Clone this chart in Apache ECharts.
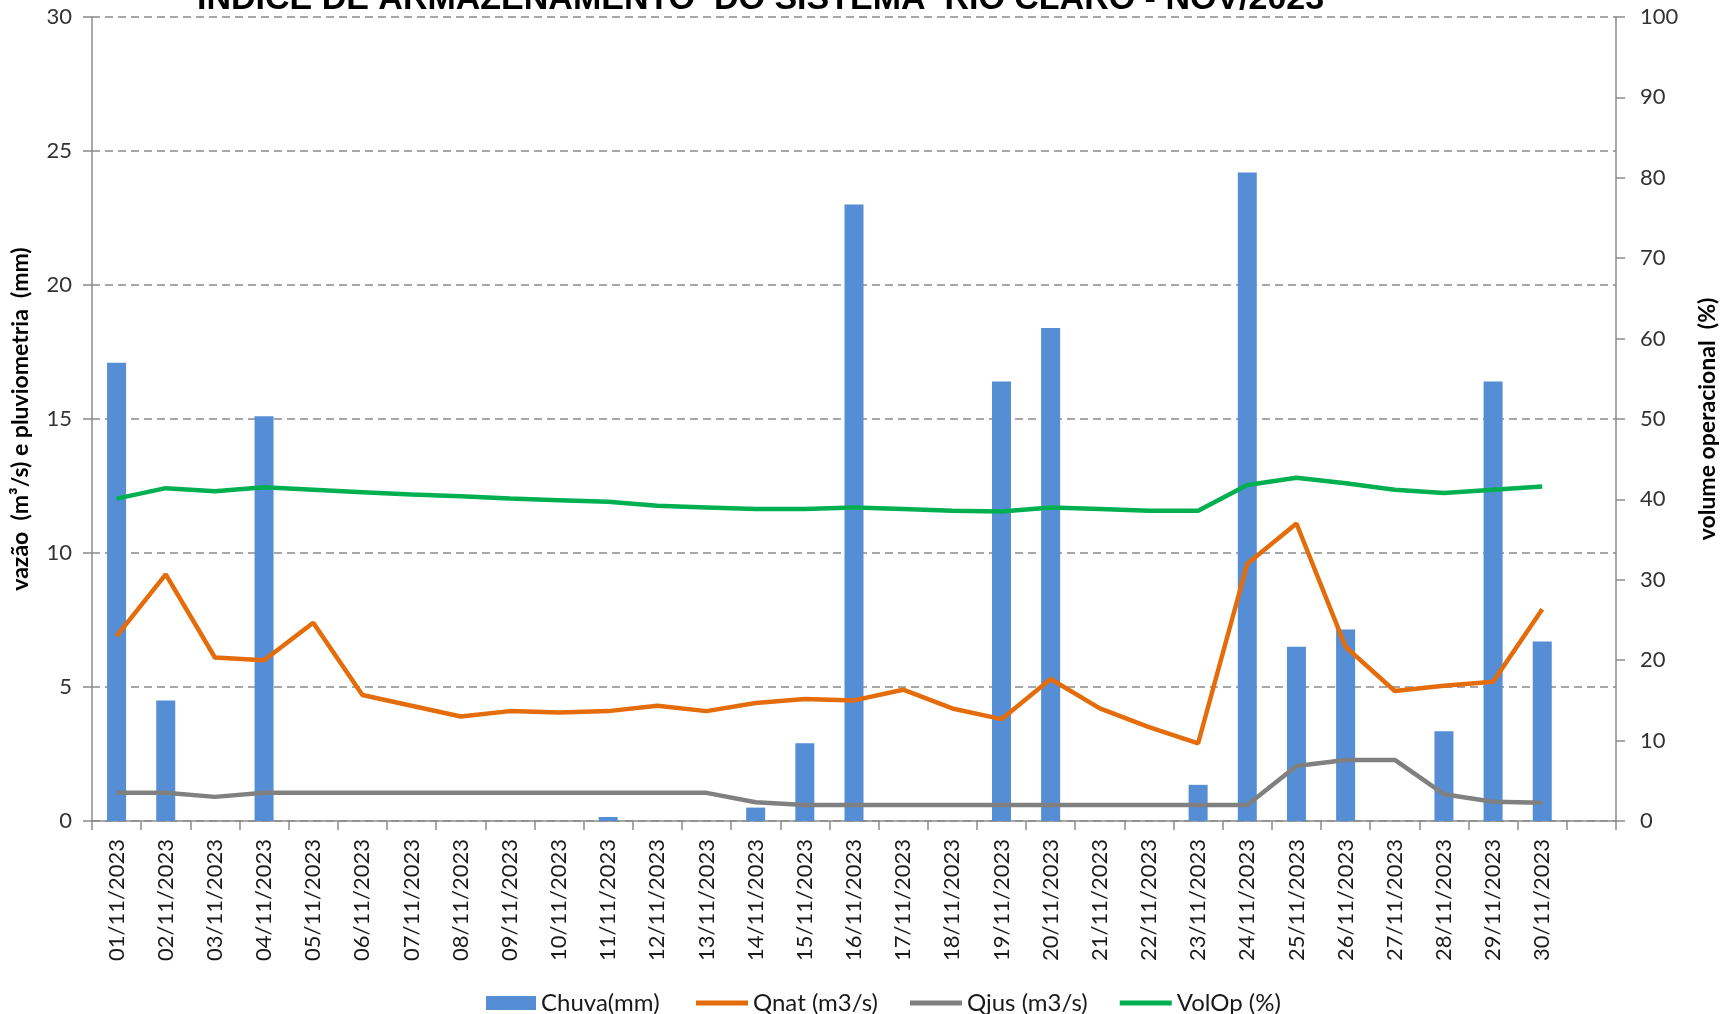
<!DOCTYPE html>
<html>
<head>
<meta charset="utf-8">
<script src="https://cdn.jsdelivr.net/npm/echarts@6/dist/echarts.min.js"></script>
<style>
html,body{margin:0;padding:0;background:#fff;}
#chart{width:1727px;height:1014px;}
</style>
</head>
<body>
<div id="chart"></div>
<script>
// datas (a ultima categoria vazia reproduz o espaco livre a direita)
var dias = ['01/11/2023','02/11/2023','03/11/2023','04/11/2023','05/11/2023','06/11/2023','07/11/2023','08/11/2023','09/11/2023','10/11/2023',
	'11/11/2023','12/11/2023','13/11/2023','14/11/2023','15/11/2023','16/11/2023','17/11/2023','18/11/2023','19/11/2023','20/11/2023',
	'21/11/2023','22/11/2023','23/11/2023','24/11/2023','25/11/2023','26/11/2023','27/11/2023','28/11/2023','29/11/2023','30/11/2023',''];
var chuva = [17.1,4.5,0,15.1,0,0,0,0,0,0, 0.15,0,0,0.5,2.9,23.0,0,0,16.4,18.4, 0,0,1.35,24.2,6.5,7.15,0,3.35,16.4,6.7, null];
var qnat  = [6.9,9.2,6.1,6.0,7.4,4.7,4.3,3.9,4.1,4.05, 4.1,4.3,4.1,4.4,4.55,4.5,4.9,4.2,3.8,5.3, 4.2,3.5,2.9,9.6,11.1,6.5,4.85,5.05,5.2,7.9, null];
var qjus  = [1.05,1.05,0.9,1.05,1.05,1.05,1.05,1.05,1.05,1.05, 1.05,1.05,1.05,0.7,0.6,0.6,0.6,0.6,0.6,0.6, 0.6,0.6,0.6,0.6,2.05,2.28,2.28,1.0,0.72,0.68, null];
var volOp = [40.1,41.4,41.0,41.5,41.2,40.9,40.6,40.4,40.1,39.9, 39.7,39.2,39.0,38.8,38.8,39.0,38.8,38.6,38.5,39.0, 38.8,38.6,38.6,41.8,42.7,42.0,41.2,40.8,41.2,41.6, null];

var chart = echarts.init(document.getElementById('chart'));
var fonte = 'Lato, "Open Sans", sans-serif';
var corEixo = '#8c8c8c';

var option = {
	animation:false,
	textStyle:{fontFamily:fonte},
	title:{
		text:'ÍNDICE DE ARMAZENAMENTO  DO SISTEMA  RIO CLARO - NOV/2023',
		left:192,
		top:-22,
		textStyle:{fontFamily:'"Liberation Sans", Arial, sans-serif',fontSize:34,fontWeight:'bold',color:'#000'}
	},
	//grade
	grid:{left:92,right:105,top:17,bottom:193,containLabel:false},
	//legenda: barra e linhas separadas para ter icones com alturas diferentes
	legend:[{
		left:481,
		top:986,
		itemWidth:50,
		itemHeight:14,
		icon:'rect',
		textStyle:{fontFamily:fonte,fontSize:24,color:'#1a1a1a'},
		data:['Chuva(mm)']
	},{
		left:691,
		top:986,
		itemGap:32,
		itemWidth:52,
		itemHeight:5,
		icon:'rect',
		textStyle:{fontFamily:fonte,fontSize:24,color:'#1a1a1a'},
		data:['Qnat (m3/s)','Qjus (m3/s)','VolOp (%)']
	}],
	xAxis:{
		type:'category',
		data:dias,
		boundaryGap:true,
		axisLine:{lineStyle:{color:corEixo,width:1.5}},
		axisTick:{show:true,length:9,interval:0,lineStyle:{color:corEixo,width:1.5}},
		axisLabel:{rotate:90,interval:0,margin:18,fontSize:22,color:'#1a1a1a',fontFamily:fonte}
	},
	yAxis:[{
		type:'value',
		min:0,max:30,interval:5,
		name:'vazão  (m³/s) e pluviometria  (mm)',
		nameLocation:'middle',
		nameGap:60,
		nameRotate:90,
		nameTextStyle:{fontFamily:fonte,fontSize:23,fontWeight:'bold',color:'#000'},
		axisLine:{show:true,lineStyle:{color:corEixo,width:1.5}},
		axisTick:{show:true,length:9,lineStyle:{color:corEixo,width:1.5}},
		axisLabel:{margin:20,fontSize:22,color:'#333'},
		splitLine:{show:true,lineStyle:{color:'#8a8a8a',width:1.5,type:[8,5]}}
	},{
		type:'value',
		min:0,max:100,interval:10,
		name:'volume operacional  (%)',
		nameLocation:'middle',
		nameGap:80,
		nameRotate:90,
		nameTextStyle:{fontFamily:fonte,fontSize:23,fontWeight:'bold',color:'#000'},
		axisLine:{show:true,lineStyle:{color:corEixo,width:1.5}},
		axisTick:{show:true,length:9,lineStyle:{color:corEixo,width:1.5}},
		axisLabel:{margin:24,fontSize:22,color:'#333'},
		splitLine:{show:false}
	}],
	series:[{
		name:'Chuva(mm)',
		type:'bar',
		yAxisIndex:0,
		barWidth:19,
		itemStyle:{color:'#558ED5'},
		data:chuva
	},{
		name:'Qnat (m3/s)',
		type:'line',
		yAxisIndex:0,
		symbol:'none',
		lineStyle:{color:'#E46C0A',width:4.5},
		itemStyle:{color:'#E46C0A'},
		data:qnat
	},{
		name:'Qjus (m3/s)',
		type:'line',
		yAxisIndex:0,
		symbol:'none',
		lineStyle:{color:'#808080',width:4.5},
		itemStyle:{color:'#808080'},
		data:qjus
	},{
		name:'VolOp (%)',
		type:'line',
		yAxisIndex:1,
		symbol:'none',
		lineStyle:{color:'#00B050',width:4.5},
		itemStyle:{color:'#00B050'},
		data:volOp
	}]
};
chart.setOption(option);
</script>
</body>
</html>
